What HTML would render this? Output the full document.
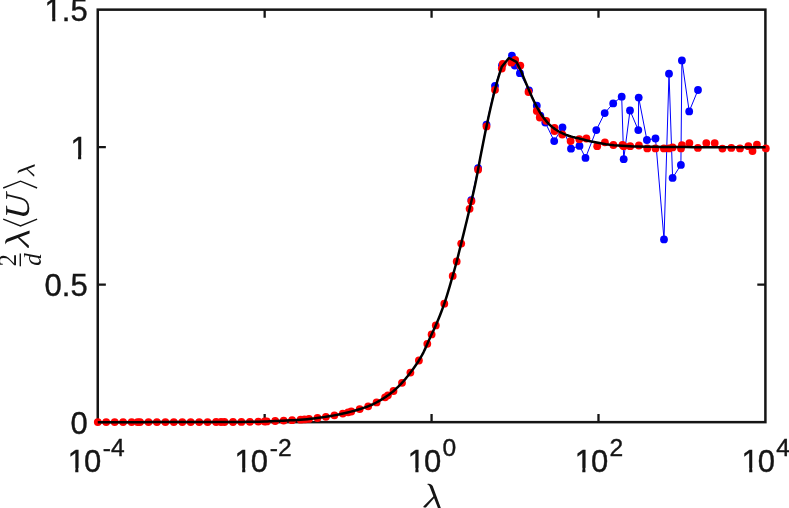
<!DOCTYPE html>
<html><head><meta charset="utf-8"><title>plot</title>
<style>html,body{margin:0;padding:0;background:#fff;}body{width:789px;height:508px;overflow:hidden;font-family:"Liberation Sans",sans-serif;}svg{display:block;}</style>
</head><body><div style="will-change:transform;width:789px;height:508px">
<svg width="789" height="508" viewBox="0 0 789 508">
<rect width="789" height="508" fill="#fff"/>
<rect x="97.75" y="9.65" width="667.65" height="412.5" fill="none" stroke="#151515" stroke-width="2.5"/>
<path d="M264.66,422.15 v-8.1 M264.66,9.65 v8.1 M431.57,422.15 v-8.1 M431.57,9.65 v8.1 M598.49,422.15 v-8.1 M598.49,9.65 v8.1 M97.75,284.65 h8.1 M765.4,284.65 h-8.1 M97.75,147.15 h8.1 M765.4,147.15 h-8.1" stroke="#151515" stroke-width="2.3" fill="none"/>
<path d="M471.3,200.1 L478.1,168.2 L486.5,124.6 L495.0,85.8 L502.0,65.3 L511.9,55.6 L514.8,65.6 L519.9,73.2 L529.0,90.3 L536.8,105.7 L540.3,115.6 L545.3,122.5 L554.2,141.1 L562.5,127.5 L571.0,148.7 L579.5,145.9 L585.5,157.9 L596.3,130.1 L604.7,113.1 L613.2,103.4 L621.7,96.7 L623.7,159.2 L630.0,110.5 L638.3,130.1 L638.7,97.6 L646.9,140.0 L655.5,138.5 L664.0,239.4 L669.0,73.7 L672.6,177.9 L680.9,164.9 L681.9,60.4 L689.2,111.4 L698.0,90.0" stroke="#0000ff" stroke-width="1" fill="none" stroke-linejoin="round"/>
<g fill="#0000ff"><circle cx="471.3" cy="200.1" r="3.9"/><circle cx="478.1" cy="168.2" r="3.9"/><circle cx="486.5" cy="124.6" r="3.9"/><circle cx="495.0" cy="85.8" r="3.9"/><circle cx="502.0" cy="65.3" r="3.9"/><circle cx="511.9" cy="55.6" r="3.9"/><circle cx="514.8" cy="65.6" r="3.9"/><circle cx="519.9" cy="73.2" r="3.9"/><circle cx="529.0" cy="90.3" r="3.9"/><circle cx="536.8" cy="105.7" r="3.9"/><circle cx="540.3" cy="115.6" r="3.9"/><circle cx="545.3" cy="122.5" r="3.9"/><circle cx="554.2" cy="141.1" r="3.9"/><circle cx="562.5" cy="127.5" r="3.9"/><circle cx="571.0" cy="148.7" r="3.9"/><circle cx="579.5" cy="145.9" r="3.9"/><circle cx="585.5" cy="157.9" r="3.9"/><circle cx="596.3" cy="130.1" r="3.9"/><circle cx="604.7" cy="113.1" r="3.9"/><circle cx="613.2" cy="103.4" r="3.9"/><circle cx="621.7" cy="96.7" r="3.9"/><circle cx="623.7" cy="159.2" r="3.9"/><circle cx="630.0" cy="110.5" r="3.9"/><circle cx="638.3" cy="130.1" r="3.9"/><circle cx="638.7" cy="97.6" r="3.9"/><circle cx="646.9" cy="140.0" r="3.9"/><circle cx="655.5" cy="138.5" r="3.9"/><circle cx="664.0" cy="239.4" r="3.9"/><circle cx="669.0" cy="73.7" r="3.9"/><circle cx="672.6" cy="177.9" r="3.9"/><circle cx="680.9" cy="164.9" r="3.9"/><circle cx="681.9" cy="60.4" r="3.9"/><circle cx="689.2" cy="111.4" r="3.9"/><circle cx="698.0" cy="90.0" r="3.9"/></g>
<g fill="#ff0000"><circle cx="97.8" cy="422.1" r="3.9"/><circle cx="106.2" cy="422.1" r="3.9"/><circle cx="114.7" cy="422.1" r="3.9"/><circle cx="123.1" cy="422.1" r="3.9"/><circle cx="131.6" cy="422.1" r="3.9"/><circle cx="140.0" cy="422.1" r="3.9"/><circle cx="148.5" cy="422.1" r="3.9"/><circle cx="156.9" cy="422.1" r="3.9"/><circle cx="165.4" cy="422.1" r="3.9"/><circle cx="173.8" cy="422.1" r="3.9"/><circle cx="182.3" cy="422.1" r="3.9"/><circle cx="190.7" cy="422.1" r="3.9"/><circle cx="199.2" cy="422.1" r="3.9"/><circle cx="207.6" cy="422.1" r="3.9"/><circle cx="216.1" cy="422.0" r="3.9"/><circle cx="224.5" cy="422.0" r="3.9"/><circle cx="233.0" cy="422.0" r="3.9"/><circle cx="241.4" cy="421.9" r="3.9"/><circle cx="249.9" cy="421.8" r="3.9"/><circle cx="258.3" cy="421.6" r="3.9"/><circle cx="266.8" cy="421.4" r="3.9"/><circle cx="275.2" cy="421.0" r="3.9"/><circle cx="283.7" cy="420.6" r="3.9"/><circle cx="292.1" cy="420.2" r="3.9"/><circle cx="300.6" cy="419.7" r="3.9"/><circle cx="309.0" cy="418.9" r="3.9"/><circle cx="317.5" cy="418.0" r="3.9"/><circle cx="325.9" cy="416.8" r="3.9"/><circle cx="334.4" cy="415.3" r="3.9"/><circle cx="342.8" cy="413.6" r="3.9"/><circle cx="351.3" cy="411.5" r="3.9"/><circle cx="359.7" cy="409.1" r="3.9"/><circle cx="368.2" cy="406.3" r="3.9"/><circle cx="376.6" cy="402.4" r="3.9"/><circle cx="385.1" cy="397.3" r="3.9"/><circle cx="393.5" cy="391.0" r="3.9"/><circle cx="402.0" cy="382.8" r="3.9"/><circle cx="410.4" cy="372.6" r="3.9"/><circle cx="418.9" cy="360.5" r="3.9"/><circle cx="427.3" cy="343.8" r="3.9"/><circle cx="435.8" cy="325.4" r="3.9"/><circle cx="444.3" cy="303.7" r="3.9"/><circle cx="452.7" cy="275.9" r="3.9"/><circle cx="461.2" cy="243.6" r="3.9"/><circle cx="469.6" cy="208.8" r="3.9"/><circle cx="478.1" cy="169.7" r="3.9"/><circle cx="486.5" cy="126.4" r="3.9"/><circle cx="495.0" cy="89.8" r="3.9"/><circle cx="137.6" cy="422.1" r="3.9"/><circle cx="221.0" cy="422.0" r="3.9"/><circle cx="264.7" cy="421.5" r="3.9"/><circle cx="304.5" cy="419.4" r="3.9"/><circle cx="348.1" cy="412.3" r="3.9"/><circle cx="387.9" cy="395.3" r="3.9"/><circle cx="431.6" cy="334.4" r="3.9"/><circle cx="456.7" cy="261.4" r="3.9"/><circle cx="471.4" cy="201.2" r="3.9"/><circle cx="502.8" cy="63.9" r="3.9"/><circle cx="501.8" cy="68.6" r="3.9"/><circle cx="511.3" cy="62.7" r="3.9"/><circle cx="515.2" cy="60.0" r="3.9"/><circle cx="520.3" cy="65.6" r="3.9"/><circle cx="528.5" cy="92.0" r="3.9"/><circle cx="536.8" cy="110.9" r="3.9"/><circle cx="539.8" cy="117.5" r="3.9"/><circle cx="546.2" cy="120.8" r="3.9"/><circle cx="554.5" cy="127.9" r="3.9"/><circle cx="554.5" cy="131.0" r="3.9"/><circle cx="562.3" cy="134.5" r="3.9"/><circle cx="570.6" cy="141.1" r="3.9"/><circle cx="579.3" cy="139.2" r="3.9"/><circle cx="586.4" cy="138.5" r="3.9"/><circle cx="597.2" cy="146.2" r="3.9"/><circle cx="604.9" cy="142.3" r="3.9"/><circle cx="613.4" cy="145.0" r="3.9"/><circle cx="622.5" cy="145.0" r="3.9"/><circle cx="623.7" cy="146.2" r="3.9"/><circle cx="630.2" cy="146.2" r="3.9"/><circle cx="638.9" cy="145.5" r="3.9"/><circle cx="647.3" cy="148.4" r="3.9"/><circle cx="655.5" cy="148.4" r="3.9"/><circle cx="663.9" cy="148.4" r="3.9"/><circle cx="669.0" cy="148.4" r="3.9"/><circle cx="672.6" cy="147.4" r="3.9"/><circle cx="681.0" cy="148.4" r="3.9"/><circle cx="681.9" cy="145.2" r="3.9"/><circle cx="689.4" cy="143.1" r="3.9"/><circle cx="697.9" cy="147.9" r="3.9"/><circle cx="706.3" cy="143.1" r="3.9"/><circle cx="714.7" cy="143.1" r="3.9"/><circle cx="722.4" cy="148.6" r="3.9"/><circle cx="731.3" cy="147.9" r="3.9"/><circle cx="740.0" cy="148.4" r="3.9"/><circle cx="748.4" cy="146.2" r="3.9"/><circle cx="752.5" cy="151.0" r="3.9"/><circle cx="756.9" cy="144.7" r="3.9"/><circle cx="765.8" cy="148.4" r="3.9"/></g>
<path d="M97.75,422.15 L111.46,422.15 L125.17,422.14 L138.88,422.14 L152.58,422.12 L166.29,422.11 L180.00,422.10 L188.33,422.09 L196.67,422.08 L205.00,422.07 L213.33,422.05 L221.67,422.03 L230.00,422.00 L235.75,421.97 L241.50,421.91 L247.25,421.84 L253.00,421.74 L258.75,421.63 L264.50,421.50 L267.08,421.42 L269.67,421.32 L272.25,421.20 L274.83,421.07 L277.42,420.93 L280.00,420.80 L283.38,420.64 L286.77,420.47 L290.15,420.31 L293.53,420.13 L296.92,419.93 L300.30,419.70 L303.68,419.44 L307.07,419.14 L310.45,418.80 L313.83,418.43 L317.22,418.03 L320.60,417.60 L323.98,417.13 L327.37,416.59 L330.75,416.01 L334.13,415.37 L337.52,414.70 L340.90,414.00 L344.27,413.26 L347.63,412.46 L351.00,411.60 L354.37,410.68 L357.73,409.72 L361.10,408.70 L362.80,408.16 L364.50,407.60 L366.20,407.01 L367.90,406.38 L369.60,405.71 L371.30,405.00 L372.98,404.24 L374.67,403.40 L376.35,402.51 L378.03,401.58 L379.72,400.60 L381.40,399.60 L383.10,398.56 L384.80,397.48 L386.50,396.35 L388.20,395.16 L389.90,393.91 L391.60,392.60 L393.28,391.22 L394.97,389.74 L396.65,388.19 L398.33,386.56 L400.02,384.86 L401.70,383.10 L403.38,381.27 L405.07,379.34 L406.75,377.32 L408.43,375.22 L410.12,373.05 L411.80,370.80 L413.50,368.47 L415.20,366.07 L416.90,363.57 L418.60,360.95 L420.30,358.16 L422.00,355.20 L423.50,352.32 L425.00,349.15 L426.50,345.79 L428.00,342.35 L429.50,338.92 L431.00,335.60 L431.78,333.94 L432.57,332.31 L433.35,330.69 L434.13,329.05 L434.92,327.36 L435.70,325.60 L437.13,322.25 L438.57,318.80 L440.00,315.22 L441.43,311.51 L442.87,307.64 L444.30,303.60 L445.65,299.58 L447.00,295.32 L448.35,290.88 L449.70,286.32 L451.05,281.67 L452.40,277.00 L453.08,274.62 L453.77,272.21 L454.45,269.77 L455.13,267.29 L455.82,264.77 L456.50,262.20 L457.23,259.38 L457.97,256.48 L458.70,253.54 L459.43,250.57 L460.17,247.58 L460.90,244.60 L462.38,238.60 L463.87,232.59 L465.35,226.55 L466.83,220.46 L468.32,214.28 L469.80,208.00 L470.83,203.59 L471.87,199.18 L472.90,194.71 L473.93,190.14 L474.97,185.42 L476.00,180.50 L476.68,177.06 L477.37,173.44 L478.05,169.72 L478.73,165.96 L479.42,162.23 L480.10,158.60 L481.08,153.50 L482.07,148.42 L483.05,143.40 L484.03,138.44 L485.02,133.57 L486.00,128.80 L486.78,125.07 L487.57,121.40 L488.35,117.78 L489.13,114.22 L489.92,110.73 L490.70,107.30 L491.42,104.21 L492.13,101.17 L492.85,98.17 L493.57,95.24 L494.28,92.38 L495.00,89.60 L495.67,87.09 L496.33,84.64 L497.00,82.25 L497.67,79.91 L498.33,77.63 L499.00,75.40 L499.47,73.88 L499.93,72.38 L500.40,70.92 L500.87,69.48 L501.33,68.08 L501.80,66.70 L508.90,58.00 L516.40,61.90 L521.50,72.00 L522.67,74.95 L523.83,77.85 L525.00,80.71 L526.17,83.52 L527.33,86.28 L528.50,89.00 L529.68,91.74 L530.87,94.47 L532.05,97.15 L533.23,99.76 L534.42,102.25 L535.60,104.60 L536.78,106.84 L537.97,109.01 L539.15,111.10 L540.33,113.08 L541.52,114.92 L542.70,116.60 L544.27,118.65 L545.83,120.58 L547.40,122.39 L548.97,124.05 L550.53,125.56 L552.10,126.90 L553.68,128.12 L555.27,129.25 L556.85,130.29 L558.43,131.24 L560.02,132.11 L561.60,132.90 L563.17,133.62 L564.73,134.29 L566.30,134.91 L567.87,135.48 L569.43,136.01 L571.00,136.50 L572.50,136.92 L574.00,137.30 L575.50,137.66 L577.00,138.00 L578.50,138.34 L580.00,138.70 L581.67,139.12 L583.33,139.56 L585.00,140.00 L586.67,140.43 L588.33,140.83 L590.00,141.20 L594.00,142.02 L598.00,142.82 L602.00,143.57 L606.00,144.24 L610.00,144.79 L614.00,145.20 L618.00,145.51 L622.00,145.79 L626.00,146.03 L630.00,146.23 L634.00,146.39 L638.00,146.50 L646.00,146.66 L654.00,146.80 L662.00,146.91 L670.00,146.99 L678.00,147.06 L686.00,147.10 L693.33,147.13 L700.67,147.15 L708.00,147.17 L715.33,147.19 L722.67,147.20 L730.00,147.20 L735.93,147.20 L741.87,147.20 L747.80,147.20 L753.73,147.20 L759.67,147.20 L765.60,147.20" stroke="#000" stroke-width="2.5" fill="none" stroke-linejoin="round" stroke-linecap="butt"/>
<g font-family="Liberation Sans, sans-serif" font-size="31" fill="#151515" stroke="#151515" stroke-width="0.4">
<text x="87.7" y="433.9" text-anchor="end">0</text>
<text x="87.7" y="296.4" text-anchor="end">0.5</text>
<text x="87.7" y="158.9" text-anchor="end">1</text>
<text x="87.7" y="21.4" text-anchor="end">1.5</text>
<text x="67.7" y="471.6">1<tspan dx="-1">0</tspan></text><text x="102.8" y="456.3" font-size="24.6">-4</text>
<text x="234.6" y="471.6">1<tspan dx="-1">0</tspan></text><text x="269.8" y="456.3" font-size="24.6">-2</text>
<text x="407.8" y="471.6">1<tspan dx="-1">0</tspan></text><text x="442.5" y="456.3" font-size="24.6">0</text>
<text x="574.7" y="471.6">1<tspan dx="-1">0</tspan></text><text x="609.4" y="456.3" font-size="24.6">2</text>
<text x="741.6" y="471.6">1<tspan dx="-1">0</tspan></text><text x="776.3" y="456.3" font-size="24.6">4</text>
</g>
<rect x="71.76" y="155.25" width="6.30" height="5.3" fill="#fff"/><rect x="81.20" y="155.25" width="6.00" height="5.3" fill="#fff"/>
<rect x="45.91" y="17.75" width="6.30" height="5.3" fill="#fff"/><rect x="55.35" y="17.75" width="6.00" height="5.3" fill="#fff"/>
<rect x="68.95" y="467.90" width="6.30" height="5.3" fill="#fff"/><rect x="78.39" y="467.90" width="6.00" height="5.3" fill="#fff"/>
<rect x="235.86" y="467.90" width="6.30" height="5.3" fill="#fff"/><rect x="245.30" y="467.90" width="6.00" height="5.3" fill="#fff"/>
<rect x="409.07" y="467.90" width="6.30" height="5.3" fill="#fff"/><rect x="418.51" y="467.90" width="6.00" height="5.3" fill="#fff"/>
<rect x="575.99" y="467.90" width="6.30" height="5.3" fill="#fff"/><rect x="585.43" y="467.90" width="6.00" height="5.3" fill="#fff"/>
<rect x="742.90" y="467.90" width="6.30" height="5.3" fill="#fff"/><rect x="752.34" y="467.90" width="6.00" height="5.3" fill="#fff"/>
<path d="M427.19,484.04 C428.64,483.77 430.12,483.77 431.12,484.50 C432.10,485.16 432.50,485.66 432.80,486.31 L440.92,508.26 L438.01,508.26 L430.19,488.00 C429.89,486.81 429.46,485.82 429.00,485.39 C428.47,484.83 427.81,484.40 427.19,484.20 Z" fill="#151515"/><path d="M434.32,495.56 L423.29,506.61 L423.69,507.60 L425.90,507.60 L434.65,497.54 Z" fill="#151515"/>
<g transform="translate(28.8,267) rotate(-90)">
<g fill="#151515" font-family="Liberation Serif, serif">
<rect x="0.7" y="-9.2" width="12.8" height="1.4"/>
<text x="7.0" y="-12.7" font-size="24.6" text-anchor="middle">2</text>
<text x="7.4" y="12.3" font-size="25" font-style="italic" text-anchor="middle">d</text>
<path d="M22.79,-23.46 C24.24,-23.73 25.73,-23.73 26.72,-23.00 C27.70,-22.34 28.10,-21.84 28.40,-21.18 L36.52,0.76 L33.61,0.76 L25.79,-19.50 C25.49,-20.69 25.07,-21.68 24.60,-22.11 C24.07,-22.67 23.41,-23.10 22.79,-23.30 Z" fill="#151515"/><path d="M29.92,-11.95 L18.89,-0.89 L19.29,0.10 L21.50,0.10 L30.25,-9.96 Z" fill="#151515"/>
<path d="M47.9,-25.6 L41.0,-8.3 L47.9,8.3" fill="none" stroke="#151515" stroke-width="1.4"/>
<text x="47.3" y="0" font-size="35" font-style="italic" transform="skewX(-4)">U</text>
<path d="M79.0,-25.6 L85.8,-8.3 L79.0,8.3" fill="none" stroke="#151515" stroke-width="1.4"/>
<path d="M93.14,-10.99 C94.16,-11.18 95.20,-11.18 95.89,-10.67 C96.58,-10.21 96.86,-9.86 97.07,-9.40 L102.75,5.96 L100.72,5.96 L95.24,-8.22 C95.04,-9.05 94.74,-9.75 94.41,-10.05 C94.04,-10.44 93.58,-10.74 93.14,-10.88 Z" fill="#151515"/><path d="M98.13,-2.93 L90.42,4.81 L90.69,5.50 L92.24,5.50 L98.36,-1.55 Z" fill="#151515"/>
</g></g>
</svg>
</div></body></html>
